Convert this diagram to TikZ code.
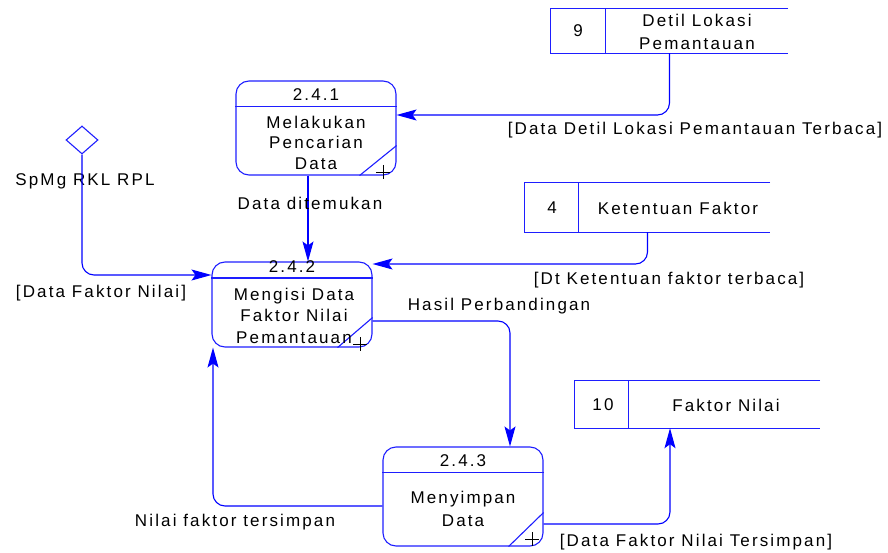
\documentclass[tikz,border=0pt]{standalone}
\usepackage{fontspec}
\setmainfont{Liberation Sans}[LetterSpace=12.5]
\usetikzlibrary{arrows.meta,shapes.geometric}

\definecolor{dfdblue}{RGB}{30,30,255}
\definecolor{flowblue}{RGB}{0,0,255}

\tikzset{
  every node/.style={font=\fontsize{17}{21}\selectfont, inner sep=0pt},
  proc/.style={draw=dfdblue, line width=1.1pt, rounded corners=13pt, minimum width=160pt},
  edge line/.style={draw=dfdblue, line width=1.1pt},
  storebox/.style={minimum width=245pt},
  flow/.style={draw=flowblue, line width=1.1pt, rounded corners=12pt,
    -{Stealth[length=20pt,width=11pt,inset=4pt]}},
  plusmark/.style={draw=black, line width=0.7pt},
  lbl/.style={text=black}
}

\begin{document}
\begin{tikzpicture}[x=1pt,y=-1pt]
\useasboundingbox (0,0) rectangle (888,553);

% processes
\node[proc, minimum height=94pt] (p1) at (316,128) {};
\node[proc, minimum height=85pt] (p2) at (292,304.5) {};
\node[proc, minimum height=99pt] (p3) at (463,496.5) {};

\draw[edge line] ([yshift=-26pt]p1.north west) -- ([yshift=-26pt]p1.north east);
\draw[edge line] ([yshift=-16.5pt]p2.north west) -- ([yshift=-16.5pt]p2.north east);
\draw[edge line] ([yshift=-26pt]p3.north west) -- ([yshift=-26pt]p3.north east);

\draw[edge line] ([xshift=-37pt]p1.south east) -- ([yshift=30pt]p1.south east);
\draw[edge line] ([xshift=-35pt]p2.south east) -- ([yshift=30pt]p2.south east);
\draw[edge line] ([xshift=-35pt]p3.south east) -- ([yshift=34pt]p3.south east);

\draw[plusmark] (376,172) -- (390,172) (383,165) -- (383,179);
\draw[plusmark] (353,344) -- (367,344) (360,337) -- (360,351);
\draw[plusmark] (525,539) -- (539,539) (532,532) -- (532,546);

\node[lbl] (p1id) at (316,95) {2.4.1};
\node[lbl, align=center, font=\fontsize{17}{20.5}\selectfont] (p1txt) at (316,142.5) {Melakukan\\Pencarian\\Data};
\node[lbl] (p2id) at (292,267) {2.4.2};
\node[lbl, align=center, font=\fontsize{17}{21.5}\selectfont] (p2txt) at (294,315.5) {Mengisi Data\\Faktor Nilai\\Pemantauan};
\node[lbl] (p3id) at (463,461) {2.4.3};
\node[lbl, align=center, font=\fontsize{17}{23}\selectfont] (p3txt) at (463,508.5) {Menyimpan\\Data};

% data stores
\node[storebox, minimum width=237pt, minimum height=44pt] (s9) at (669.5,31) {};
\node[storebox, minimum height=49pt] (s4) at (647.5,207.5) {};
\node[storebox, minimum height=47pt] (s10) at (697.5,404.5) {};

\draw[edge line] (s9.north east) -- (s9.north west) -- (s9.south west) -- (s9.south east);
\draw[edge line] ([xshift=55pt]s9.north west) -- ([xshift=55pt]s9.south west);
\draw[edge line] (s4.north east) -- (s4.north west) -- (s4.south west) -- (s4.south east);
\draw[edge line] ([xshift=54pt]s4.north west) -- ([xshift=54pt]s4.south west);
\draw[edge line] (s10.north east) -- (s10.north west) -- (s10.south west) -- (s10.south east);
\draw[edge line] ([xshift=54pt]s10.north west) -- ([xshift=54pt]s10.south west);

\node[lbl] (s9id) at (578,31) {9};
\node[lbl, align=center, font=\fontsize{17}{23}\selectfont] (s9txt) at (697,31.5) {Detil Lokasi\\Pemantauan};
\node[lbl] (s4id) at (552,208) {4};
\node[lbl] (s4txt) at (678,208) {Ketentuan Faktor};
\node[lbl] (s10id) at (603,405) {10};
\node[lbl] (s10txt) at (726,405) {Faktor Nilai};

% external entity
\node[diamond, draw=dfdblue, line width=1.1pt, minimum width=32pt, minimum height=28pt] (d) at (82,140) {};
\node[lbl] (dtxt) at (85,181) {SpMg RKL RPL};

% data flows
\draw[flow] (s9.south) |- ([yshift=13pt]p1.east);
\draw[flow] ([xshift=-8pt]p1.south) -- ([xshift=-8pt]p1.south |- p2.north);
\draw[flow] (s4.south) |- ([yshift=40.5pt]p2.east);
\draw[flow] (d.south) |- ([yshift=29.5pt]p2.west);
\draw[flow] ([yshift=-16.5pt]p2.east) -| ([xshift=47pt]p3.north);
\draw[flow] ([yshift=-9.5pt]p3.west) -| ([xshift=-79pt]p2.south);
\draw[flow] ([yshift=-27.5pt]p3.east) -| ([xshift=-27.5pt]s10.south);

% flow labels
\node[lbl] (l1) at (695,130) {[Data Detil Lokasi Pemantauan Terbaca]};
\node[lbl] (l2) at (310,203) {Data ditemukan};
\node[lbl] (l3) at (669,280) {[Dt Ketentuan faktor terbaca]};
\node[lbl] (l4) at (101,293) {[Data Faktor Nilai]};
\node[lbl] (l5) at (499,306) {Hasil Perbandingan};
\node[lbl] (l6) at (235,522) {Nilai faktor tersimpan};
\node[lbl] (l7) at (696,542) {[Data Faktor Nilai Tersimpan]};
\end{tikzpicture}
\end{document}
